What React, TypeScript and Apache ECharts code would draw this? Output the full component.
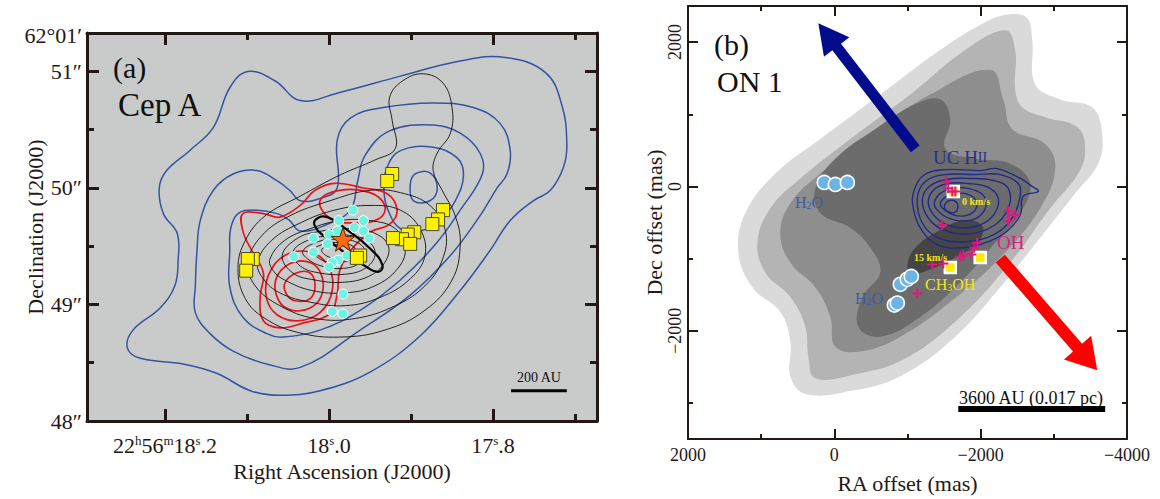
import React, { useEffect, useRef } from "react";
import * as echarts from "echarts";

const SERIF = "'Liberation Serif', 'Times New Roman', serif";
const INK = "#231815";

// ================= Panel (a): Cep A (RA seconds of 22h56m, Dec arcsec of 62°01′) =================
const raRangeA = [17.6732, 18.2951];
const decRangeA = [48, 51.33];
const raMajorA = [18.2, 18.0, 17.8];
const raMinorA = [18.1, 17.9, 17.7];
const raLabelA = ["22h56m18s.2", "18s.0", "17s.8"];
const decLabelValA = [48, 49, 50, 51];
const decLabelA = ["48″", "49″", "50″", "51″"];
const decTopLabelA = "62°01′";
const decMajorA = [48, 49, 50, 51];
const decMinorA = [48.5, 49.5, 50.5];

const blueA1 = [[18.099,51.00],[18.066,50.92],[18.035,50.75],[17.987,50.82],[17.913,50.96],[17.840,51.09],[17.785,51.12],[17.736,50.99],[17.716,50.71],[17.710,50.38],[17.714,50.18],[17.730,49.98],[17.751,49.89],[17.779,49.72],[17.804,49.46],[17.840,49.12],[17.889,48.73],[17.950,48.42],[18.011,48.26],[18.060,48.22],[18.096,48.26],[18.137,48.41],[18.178,48.49],[18.231,48.54],[18.246,48.63],[18.239,48.78],[18.206,48.97],[18.188,49.16],[18.184,49.38],[18.185,49.61],[18.202,49.78],[18.207,50.00],[18.198,50.15],[18.170,50.32],[18.141,50.52],[18.121,50.86]];
const blueA2 = [[18.161,49.46],[18.163,49.16],[18.163,48.93],[18.145,48.75],[18.117,48.60],[18.076,48.49],[18.035,48.46],[17.962,48.78],[17.901,49.08],[17.852,49.42],[17.816,49.76],[17.795,50.00],[17.783,50.12],[17.779,50.32],[17.791,50.55],[17.824,50.69],[17.873,50.73],[17.934,50.69],[17.974,50.60],[17.990,50.41],[17.990,50.00],[18.011,49.91],[18.035,49.89],[18.048,49.98],[18.063,50.06],[18.088,50.15],[18.117,50.12],[18.141,49.98],[18.157,49.72]];
const blueA3 = [[18.121,49.46],[18.121,49.15],[18.105,48.89],[18.076,48.75],[18.056,48.72],[18.011,48.78],[17.962,48.95],[17.913,49.21],[17.871,49.51],[17.840,49.81],[17.813,50.12],[17.816,50.30],[17.840,50.47],[17.873,50.54],[17.926,50.49],[17.956,50.28],[17.965,50.06],[17.974,49.81],[18.005,49.68],[18.035,49.63],[18.048,49.72],[18.063,49.78],[18.093,49.81],[18.111,49.78],[18.120,49.65]];
const blueA4 = [[17.929,50.18],[17.913,50.32],[17.873,50.35],[17.844,50.26],[17.836,50.11],[17.846,49.89],[17.865,49.72],[17.889,49.63],[17.913,49.65],[17.928,49.81],[17.933,49.98]];
const blueA5 = [[17.901,50.02],[17.895,50.12],[17.877,50.13],[17.868,50.00],[17.877,49.89],[17.897,49.89]];

const redA1 = [[18.105,49.78],[18.080,49.78],[18.060,49.75],[18.035,49.85],[18.017,49.98],[17.993,50.04],[17.958,50.00],[17.929,49.95],[17.917,49.81],[17.926,49.69],[17.950,49.62],[17.974,49.46],[17.987,49.29],[17.990,49.09],[17.999,48.92],[18.032,48.84],[18.060,48.80],[18.080,48.86],[18.084,49.06],[18.080,49.27],[18.094,49.46],[18.105,49.63]];
const redA2u = [[18.011,49.89],[17.987,49.98],[17.950,49.96],[17.932,49.85],[17.938,49.74],[17.968,49.70],[17.999,49.74]];
const redA2 = [[18.074,49.25],[18.054,49.42],[18.023,49.45],[18.001,49.33],[17.996,49.12],[18.011,48.93],[18.038,48.86],[18.063,48.91],[18.076,49.05]];
const redA3 = [[18.065,49.21],[18.048,49.35],[18.023,49.36],[18.009,49.25],[18.009,49.08],[18.023,48.97],[18.045,48.95],[18.061,49.03]];
const redA4 = [[18.054,49.18],[18.040,49.27],[18.023,49.27],[18.017,49.16],[18.023,49.05],[18.040,49.03],[18.051,49.08]];

const blackA1 = [[18.111,49.31],[18.102,49.55],[18.078,49.76],[18.035,49.93],[17.987,50.11],[17.944,50.24],[17.919,50.34],[17.923,50.58],[17.926,50.78],[17.910,50.92],[17.885,50.98],[17.861,50.90],[17.850,50.69],[17.852,50.47],[17.868,50.30],[17.873,50.15],[17.862,49.98],[17.846,49.76],[17.840,49.51],[17.850,49.21],[17.883,48.95],[17.932,48.78],[17.987,48.72],[18.038,48.76],[18.078,48.88],[18.102,49.05]];
const blackA2 = [[18.099,49.36],[18.082,49.59],[18.048,49.76],[17.999,49.89],[17.950,49.98],[17.913,49.96],[17.877,49.85],[17.858,49.63],[17.862,49.38],[17.883,49.16],[17.919,48.99],[17.968,48.88],[18.017,48.88],[18.060,48.99],[18.090,49.16]];
const blackA3 = [[18.087,49.36],[18.070,49.55],[18.035,49.70],[17.993,49.81],[17.950,49.85],[17.913,49.81],[17.889,49.65],[17.883,49.42],[17.901,49.22],[17.938,49.06],[17.980,48.99],[18.023,49.02],[18.060,49.10],[18.080,49.22]];
const blackA4 = [[18.072,49.39],[18.054,49.55],[18.023,49.65],[17.987,49.72],[17.950,49.72],[17.919,49.65],[17.907,49.48],[17.916,49.31],[17.944,49.16],[17.980,49.10],[18.021,49.12],[18.054,49.21],[18.068,49.29]];
const blackA5 = [[18.057,49.42],[18.038,49.57],[18.009,49.63],[17.977,49.65],[17.947,49.62],[17.928,49.51],[17.932,49.36],[17.952,49.24],[17.984,49.19],[18.017,49.21],[18.044,49.27]];
const blackA6 = [[18.044,49.45],[18.026,49.55],[17.999,49.59],[17.972,49.59],[17.950,49.53],[17.944,49.42],[17.956,49.31],[17.980,49.26],[18.011,49.27],[18.035,49.33]];
const blackA7 = [[18.032,49.46],[18.013,49.54],[17.993,49.56],[17.968,49.54],[17.956,49.46],[17.962,49.36],[17.982,49.31],[18.009,49.33],[18.026,49.39]];
const blackA8 = [[18.019,49.47],[18.005,49.52],[17.987,49.53],[17.971,49.50],[17.967,49.43],[17.979,49.37],[17.999,49.36],[18.015,49.41]];
const blackA9 = [[18.009,49.47],[17.996,49.51],[17.982,49.50],[17.977,49.45],[17.987,49.40],[18.001,49.41]];
const jetEllipseA = [[18.016,49.73],[18.002,49.75],[17.978,49.64],[17.950,49.48],[17.935,49.34],[17.940,49.28],[17.956,49.33],[17.980,49.44],[18.005,49.58],[18.017,49.67]];

const starA = [[17.983, 49.56]];
const cyanA = [[17.971,49.81],[17.958,49.72],[17.988,49.72],[17.969,49.66],[17.958,49.63],[17.951,49.57],[17.990,49.63],[18.000,49.60],[18.019,49.57],[18.002,49.52],[18.019,49.45],[18.043,49.41],[17.978,49.42],[17.989,49.38],[17.996,49.36],[18.000,49.32],[17.983,49.09],[17.996,48.94],[17.983,48.92]];
const squaresA = [[17.923,50.12],[17.929,50.06],[17.861,49.81],[17.867,49.73],[17.874,49.69],[17.896,49.62],[17.904,49.60],[17.911,49.56],[17.922,49.57],[17.901,49.52],[17.962,49.42],[17.966,49.40],[18.093,49.39],[18.099,49.39],[18.101,49.29]];
const scaleBarA = [[17.778, 48.26, 17.710, 48.26]];

// ================= Panel (b): ON 1 (offsets in mas) =================
const raRangeB = [-4000, 2000];
const decRangeB = [-3500, 2500];
const xMajorB = [2000, 0, -2000, -4000];
const xLabelB = ["2000", "0", "−2000", "−4000"];
const xMinorB = [1000, -1000, -3000];
const yMajorB = [-2000, 0, 2000];
const yLabelB = ["−2000", "0", "2000"];
const yMinorB = [-3000, -1000, 1000];

const grayB1 = [[-2063,2274],[-2404,2384],[-2636,2329],[-2705,2028],[-2746,1411],[-3087,1206],[-3524,1096],[-3661,726],[-3606,315],[-3292,-96],[-2814,-712],[-2268,-1397],[-1653,-2082],[-902,-2630],[-219,-2836],[396,-2877],[601,-2630],[601,-2151],[738,-1740],[1120,-1397],[1311,-918],[1216,-370],[806,178],[191,658],[-628,1274],[-1448,1891]];
const grayB2 = [[-2336,2165],[-2472,1891],[-2472,1343],[-2568,1096],[-2882,959],[-3319,822],[-3429,521],[-3333,178],[-2951,-301],[-2404,-1055],[-1721,-1808],[-970,-2384],[-287,-2603],[260,-2658],[355,-2356],[396,-1945],[601,-1534],[943,-1192],[1052,-781],[874,-301],[464,110],[-219,658],[-1038,1274],[-1789,1891]];
const grayB3 = [[-2131,1617],[-2309,1206],[-2431,795],[-2882,589],[-3019,247],[-2814,-301],[-2268,-986],[-1585,-1603],[-902,-2082],[-355,-2288],[-14,-2219],[55,-1808],[260,-1397],[601,-1055],[738,-644],[601,-233],[191,178],[-492,726],[-1311,1274]];
const grayB4 = [[191,-370],[260,-27],[-14,384],[-560,795],[-1106,1137],[-1448,1206],[-1585,932],[-1516,521],[-1926,384],[-2404,315],[-2677,41],[-2541,-370],[-2199,-781],[-1721,-1329],[-1175,-1808],[-628,-2082],[-328,-1945],[-382,-1534],[-628,-1192],[-492,-849],[-219,-575]];
const grayB5 = [[-997,-1096],[-1106,-849],[-1448,-603],[-1789,-466],[-2022,-548],[-1967,-781],[-1653,-986],[-1311,-1151],[-1065,-1206]];

const ucB1 = [[-1079,-96],[-1216,151],[-1516,233],[-1994,219],[-2227,247],[-2541,110],[-2705,0],[-2787,-69],[-2582,-137],[-2541,-397],[-2363,-617],[-2131,-754],[-1762,-849],[-1407,-808],[-1175,-575],[-1079,-301]];
const ucB2 = [[-1134,-164],[-1243,69],[-1516,164],[-1926,164],[-2268,164],[-2513,41],[-2541,-123],[-2445,-411],[-2199,-658],[-1789,-767],[-1421,-712],[-1202,-507]];
const ucB3 = [[-1202,-192],[-1298,0],[-1530,96],[-1858,110],[-2172,82],[-2377,-27],[-2377,-301],[-2172,-548],[-1830,-658],[-1489,-603],[-1284,-438]];
const ucB4 = [[-1284,-206],[-1366,-41],[-1557,41],[-1830,41],[-2104,-14],[-2240,-164],[-2186,-384],[-1994,-534],[-1748,-575],[-1489,-507],[-1339,-370]];
const ucB5 = [[-1366,-233],[-1448,-96],[-1612,-27],[-1830,-27],[-2022,-110],[-2076,-260],[-1967,-425],[-1748,-480],[-1530,-425],[-1407,-329]];
const ucB6 = [[-1448,-247],[-1530,-137],[-1667,-96],[-1830,-110],[-1940,-206],[-1912,-343],[-1748,-411],[-1571,-370]];
const ucB7 = [[-1503,-274],[-1585,-192],[-1680,-233],[-1667,-343],[-1571,-356]];

const h2oB = [[137,55],[-14,27],[-178,55],[-902,-1356],[-997,-1288],[-1052,-1247],[-820,-1644],[-861,-1617]];
const ohB = [[-1530,69],[-1557,-27],[-1612,-69],[-1653,-69],[-1475,-534],[-2377,-343],[-2472,-397],[-2377,-480],[-1953,-781],[-1912,-849],[-1871,-945],[-1762,-959],[-1721,-973],[-1489,-1069],[-1339,-1082],[-1134,-1480]];
const ch3ohB = [[-1626,-69],[-1994,-986],[-1585,-1123]];
const blueLobeB = [[-1106, 521, 219, 2261]];
const redLobeB = [[-2268, -1000, -3593, -2548]];
const scaleBarB = [[-1694, -3083, -3702, -3083]];

// ================= helpers =================
function contour(pts: number[][], axis: number, style: any, z: number, smooth = 0.4) {
  return {
    type: "custom", xAxisIndex: axis, yAxisIndex: axis, coordinateSystem: "cartesian2d",
    clip: true, silent: true, z, data: pts,
    renderItem: (params: any, api: any) => {
      if (params.dataIndex !== 0) return null;
      return { type: "polygon", shape: { points: pts.map((p) => api.coord(p)), smooth }, style };
    },
  };
}

function arrow(data: number[][], axis: number, color: string, shaftW: number, headW: number, headL: number) {
  return {
    type: "custom", xAxisIndex: axis, yAxisIndex: axis, silent: true, z: 6, data,
    renderItem: (params: any, api: any) => {
      const a = api.coord([api.value(0), api.value(1)]);
      const b = api.coord([api.value(2), api.value(3)]);
      const dx = b[0] - a[0], dy = b[1] - a[1];
      const L = Math.hypot(dx, dy);
      const ux = dx / L, uy = dy / L, nx = -uy, ny = ux;
      const bx = b[0] - ux * headL, by = b[1] - uy * headL;
      const pts = [
        [a[0] + nx * shaftW / 2, a[1] + ny * shaftW / 2],
        [bx + nx * shaftW / 2, by + ny * shaftW / 2],
        [bx + nx * headW / 2, by + ny * headW / 2],
        [b[0], b[1]],
        [bx - nx * headW / 2, by - ny * headW / 2],
        [bx - nx * shaftW / 2, by - ny * shaftW / 2],
        [a[0] - nx * shaftW / 2, a[1] - ny * shaftW / 2],
      ];
      return { type: "polygon", shape: { points: pts }, style: { fill: color } };
    },
  };
}

function bar(data: number[][], axis: number, width: number) {
  return {
    type: "custom", xAxisIndex: axis, yAxisIndex: axis, silent: true, z: 6, data,
    renderItem: (params: any, api: any) => {
      const a = api.coord([api.value(0), api.value(1)]);
      const b = api.coord([api.value(2), api.value(3)]);
      return { type: "line", shape: { x1: a[0], y1: a[1], x2: b[0], y2: b[1] }, style: { stroke: "#000", lineWidth: width } };
    },
  };
}

function axis(o: any) {
  return {
    type: "value", gridIndex: o.grid, position: o.position, min: o.min, max: o.max, inverse: !!o.inverse,
    axisLine: { show: o.line, onZero: false, lineStyle: { color: INK, width: o.lw } },
    axisTick: { show: true, inside: true, length: o.len, customValues: o.ticks, lineStyle: { color: INK, width: o.lw } },
    axisLabel: o.label || { show: false },
    splitLine: { show: false },
    name: o.name || "", nameLocation: "middle", nameGap: o.nameGap || 0,
    nameTextStyle: { fontFamily: SERIF, fontSize: 22, color: INK },
  };
}

function pick(vals: number[], labels: string[], v: number) {
  const i = vals.findIndex((t) => Math.abs(t - v) < 1e-6);
  return i >= 0 ? labels[i] : "";
}

function text(x: number, y: number, t: string, size: number, color: string, extra: any = {}) {
  return {
    type: "text", x, y, z: 100, silent: true,
    style: { text: t, fill: color, fontSize: size, fontFamily: SERIF, textAlign: "left", textVerticalAlign: "middle", verticalAlign: "middle", ...extra },
  };
}

function buildOption(): any {
  const xA = { grid: 0, min: raRangeA[0], max: raRangeA[1], inverse: true };
  const yA = { grid: 0, min: decRangeA[0], max: decRangeA[1] };
  const xB = { grid: 1, min: raRangeB[0], max: raRangeB[1], inverse: true };
  const yB = { grid: 1, min: decRangeB[0], max: decRangeB[1] };

  const xAxis = [
    axis({ ...xA, position: "bottom", line: true, lw: 3, len: 12, ticks: raMajorA, name: "Right Ascension (J2000)", nameGap: 35,
      label: { show: true, customValues: raMajorA, margin: 13, fontFamily: SERIF, fontSize: 22, color: INK,
        formatter: (v: number) => pick(raMajorA, raLabelA, v).replace(/([hms])/g, "{s|$1}"),
        rich: { s: { fontFamily: SERIF, fontSize: 13, color: INK, verticalAlign: "top" } } } }),
    axis({ ...xA, position: "bottom", line: false, lw: 3, len: 7, ticks: raMinorA }),
    axis({ ...xA, position: "top", line: true, lw: 3, len: 12, ticks: raMajorA }),
    axis({ ...xA, position: "top", line: false, lw: 3, len: 7, ticks: raMinorA }),
    axis({ ...xB, position: "bottom", line: true, lw: 2, len: 10, ticks: xMajorB, name: "RA offset (mas)", nameGap: 33,
      label: { show: true, customValues: xMajorB, margin: 7, fontFamily: SERIF, fontSize: 18, color: INK,
        formatter: (v: number) => pick(xMajorB, xLabelB, v) } }),
    axis({ ...xB, position: "bottom", line: false, lw: 2, len: 5, ticks: xMinorB }),
    axis({ ...xB, position: "top", line: true, lw: 2, len: 10, ticks: xMajorB }),
    axis({ ...xB, position: "top", line: false, lw: 2, len: 5, ticks: xMinorB }),
  ];
  const yAxis = [
    axis({ ...yA, position: "left", line: true, lw: 3, len: 12, ticks: decMajorA, name: "Declination (J2000)", nameGap: 41,
      label: { show: true, customValues: decLabelValA, margin: 5, fontFamily: SERIF, fontSize: 22, color: INK,
        formatter: (v: number) => pick(decLabelValA, decLabelA, v) } }),
    axis({ ...yA, position: "left", line: false, lw: 3, len: 7, ticks: decMinorA }),
    axis({ ...yA, position: "right", line: true, lw: 3, len: 12, ticks: decMajorA }),
    axis({ ...yA, position: "right", line: false, lw: 3, len: 7, ticks: decMinorA }),
    axis({ ...yB, position: "left", line: true, lw: 2, len: 10, ticks: yMajorB, name: "Dec offset (mas)", nameGap: 22,
      label: { show: true, customValues: yMajorB, margin: 4, rotate: 90, fontFamily: SERIF, fontSize: 18, color: INK,
        formatter: (v: number) => pick(yMajorB, yLabelB, v) } }),
    axis({ ...yB, position: "left", line: false, lw: 2, len: 5, ticks: yMinorB }),
    axis({ ...yB, position: "right", line: true, lw: 2, len: 10, ticks: yMajorB }),
    axis({ ...yB, position: "right", line: false, lw: 2, len: 5, ticks: yMinorB }),
  ];

  const blue = { fill: "none", stroke: "#3553a2", lineWidth: 1.5 };
  const red = { fill: "none", stroke: "#e8141c", lineWidth: 1.7 };
  const black = { fill: "none", stroke: "#111111", lineWidth: 0.9 };
  const uc = { fill: "none", stroke: "#1f2a8c", lineWidth: 1.4 };

  const series: any[] = [
    ...[blueA1, blueA2, blueA3, blueA4, blueA5].map((c) => contour(c, 0, blue, 2)),
    ...[redA1, redA2u, redA2, redA3, redA4].map((c) => contour(c, 0, red, 3)),
    ...[blackA1, blackA2, blackA3, blackA4, blackA5, blackA6, blackA7, blackA8, blackA9].map((c) => contour(c, 0, black, 4)),
    contour(jetEllipseA, 0, { fill: "none", stroke: "#000", lineWidth: 2.2 }, 4, 0.5),
    { type: "scatter", xAxisIndex: 0, yAxisIndex: 0, z: 7, data: cyanA, symbol: "circle", symbolSize: 10,
      itemStyle: { color: "#6ff2e2", borderColor: "#ffffff", borderWidth: 1, opacity: 1 }, silent: true },
    { type: "scatter", xAxisIndex: 0, yAxisIndex: 0, z: 8, data: squaresA, symbol: "rect", symbolSize: 13,
      itemStyle: { color: "#fff200", borderColor: "#4b4b20", borderWidth: 1, opacity: 1 }, silent: true },
    { type: "scatter", xAxisIndex: 0, yAxisIndex: 0, z: 9, data: starA,
      symbol: "path://M50,0 L61.8,35.3 L99,35.3 L69,57.1 L80.4,92.6 L50,70.7 L19.6,92.6 L31,57.1 L1,35.3 L38.2,35.3 Z",
      symbolSize: 24, itemStyle: { color: "#ff6a0a", borderColor: "#5a2500", borderWidth: 1, opacity: 1 }, silent: true },
    bar(scaleBarA, 0, 3),

    contour(grayB1, 4, { fill: "#dadada" }, 1),
    contour(grayB2, 4, { fill: "#b4b4b4" }, 1),
    contour(grayB3, 4, { fill: "#8e8e8e" }, 1),
    contour(grayB4, 4, { fill: "#6c6c6c" }, 1),
    contour(grayB5, 4, { fill: "#454545" }, 1),
    ...[ucB1, ucB2, ucB3, ucB4, ucB5, ucB6, ucB7].map((c) => contour(c, 4, uc, 3)),
    arrow(blueLobeB, 4, "#020b8c", 11, 32, 30),
    arrow(redLobeB, 4, "#ff0000", 12, 36, 30),
    { type: "scatter", xAxisIndex: 4, yAxisIndex: 4, z: 7, data: h2oB, symbol: "circle", symbolSize: 14,
      itemStyle: { color: "#6ab5e6", borderColor: "#ffffff", borderWidth: 1.6, opacity: 1 }, silent: true },
    { type: "scatter", xAxisIndex: 4, yAxisIndex: 4, z: 8, data: ch3ohB, symbol: "rect", symbolSize: 11,
      itemStyle: { color: "#ffea00", borderColor: "#ffffff", borderWidth: 2.5, opacity: 1 }, silent: true },
    { type: "scatter", xAxisIndex: 4, yAxisIndex: 4, z: 9, data: ohB, symbol: "path://M4,0H6V4H10V6H6V10H4V6H0V4H4Z", symbolSize: 10,
      itemStyle: { color: "#e0177c", opacity: 1 }, silent: true },
    bar(scaleBarB, 4, 6),
  ];

  const yellow = "#efe41c";
  const graphic = [
    text(82, 35, decTopLabelA, 22, INK, { textAlign: "right" }),
    text(113, 67, "(a)", 30, "#111"),
    text(118, 105, "Cep A", 33, "#111"),
    text(539, 377, "200 AU", 14, "#111", { textAlign: "center" }),
    text(714, 44, "(b)", 30, "#111"),
    text(717, 81, "ON 1", 30, "#111"),
    text(933, 157, "{a|UC H}{b|II}", 19, "#2a2f8f", { rich: { a: { fontSize: 19, fontFamily: SERIF, fill: "#2a2f8f" }, b: { fontSize: 14, fontFamily: SERIF, fill: "#2a2f8f" } } }),
    text(795, 202, "{a|H}{b|2}{a|O}", 16, "#3b5ca8", { rich: { a: { fontSize: 16, fontFamily: SERIF, fill: "#3b5ca8" }, b: { fontSize: 10, fontFamily: SERIF, fill: "#3b5ca8", verticalAlign: "bottom" } } }),
    text(855, 298, "{a|H}{b|2}{a|O}", 16, "#3b5ca8", { rich: { a: { fontSize: 16, fontFamily: SERIF, fill: "#3b5ca8" }, b: { fontSize: 10, fontFamily: SERIF, fill: "#3b5ca8", verticalAlign: "bottom" } } }),
    text(962, 201, "0 km/s", 10, yellow, { fontWeight: "bold" }),
    text(997, 242, "OH", 19, "#d8237a"),
    text(914, 257, "15 km/s", 10, yellow, { fontWeight: "bold" }),
    text(925, 284, "{a|CH}{b|3}{a|OH}", 16, yellow, { rich: { a: { fontSize: 16, fontFamily: SERIF, fill: yellow }, b: { fontSize: 10, fontFamily: SERIF, fill: yellow, verticalAlign: "bottom" } } }),
    text(1031, 398, "3600 AU (0.017 pc)", 18, "#111", { textAlign: "center" }),
  ];

  return {
    animation: false,
    backgroundColor: "#ffffff",
    grid: [
      { left: 87, top: 33, width: 510, height: 388, show: true, backgroundColor: "#c9caca", borderWidth: 0 },
      { left: 688, top: 6, width: 439, height: 437, show: false },
    ],
    xAxis,
    yAxis,
    series,
    graphic,
  };
}

export default function App() {
  const ref = useRef<HTMLDivElement>(null);
  useEffect(() => {
    document.body.style.margin = "0";
    const chart = echarts.init(ref.current as HTMLDivElement, null, { renderer: "svg" });
    chart.setOption(buildOption());
    return () => chart.dispose();
  }, []);
  return <div ref={ref} style={{ width: 1160, height: 499, overflow: "hidden" }} />;
}
